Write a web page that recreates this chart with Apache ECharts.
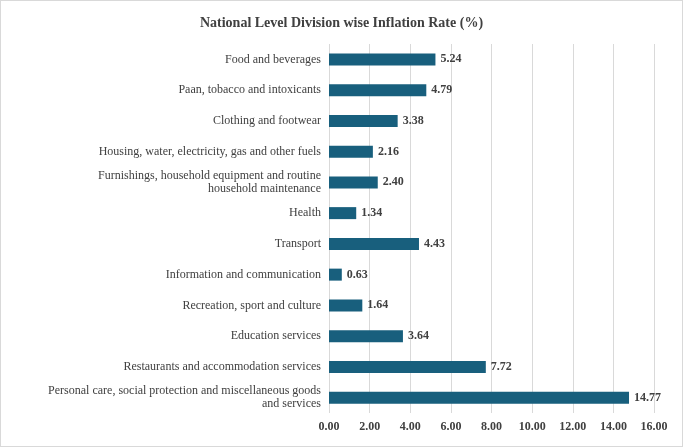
<!DOCTYPE html>
<html><head><meta charset="utf-8">
<script src="https://cdn.jsdelivr.net/npm/echarts@6/dist/echarts.min.js"></script>
<style>html,body{margin:0;padding:0;background:#fff}#c{width:683px;height:447px;box-sizing:border-box;border:1px solid #d9d9d9}</style>
</head><body><div id="c"></div>
<script>
var categories = [
  'Food and beverages',
  'Paan, tobacco and intoxicants',
  'Clothing and footwear',
  'Housing, water, electricity, gas and other fuels',
  'Furnishings, household equipment and routine\nhousehold maintenance',
  'Health',
  'Transport',
  'Information and communication',
  'Recreation, sport and culture',
  'Education services',
  'Restaurants and accommodation services',
  'Personal care, social protection and miscellaneous goods\nand services'
];
var values = [5.24, 4.79, 3.38, 2.16, 2.40, 1.34, 4.43, 0.63, 1.64, 3.64, 7.72, 14.77];
var font = '"Liberation Serif", "DejaVu Serif", serif';
var chart = echarts.init(document.getElementById('c'));
chart.setOption({
  title: {text: 'National Level Division wise Inflation Rate (%)', left: 'center', top: 10,
    textStyle: {fontFamily: font, fontSize: 14, fontWeight: 'bold', color: '#404040'}},
  grid: {left: 328, right: 28, top: 43, bottom: 33},
  xAxis: {type: 'value', min: 0, max: 16, interval: 2,
    axisLabel: {formatter: function(v){return v.toFixed(2);}, fontFamily: font, fontSize: 12, color: '#404040', fontWeight: 'bold'},
    splitLine: {lineStyle: {color: '#d9d9d9'}}, axisLine: {show: false}, axisTick: {show: false}},
  yAxis: {type: 'category', inverse: true, data: categories,
    axisLabel: {fontFamily: font, fontSize: 12, color: '#404040', lineHeight: 13, margin: 8},
    axisLine: {show: false}, axisTick: {show: false}},
  series: [{type: 'bar', data: values, barWidth: 12, itemStyle: {color: '#185f7d'},
    label: {show: true, position: 'right', formatter: function(p){return p.value.toFixed(2);},
      fontFamily: font, fontSize: 12, fontWeight: 'bold', color: '#404040'}}]
});
</script></body></html>
